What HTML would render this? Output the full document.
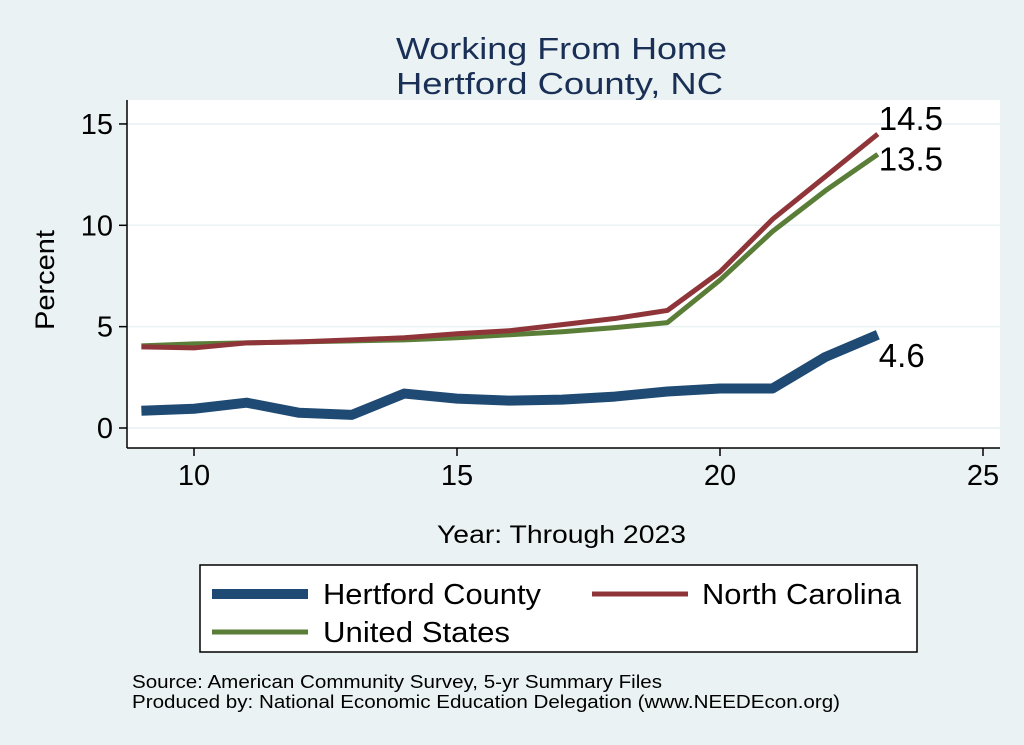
<!DOCTYPE html>
<html><head><meta charset="utf-8"><style>
body{margin:0;background:#eaf2f3;}
svg{display:block;font-family:"Liberation Sans",Arial,sans-serif;}
</style></head><body>
<svg id="chart" width="1024" height="745">
<rect x="0" y="0" width="1024" height="745" fill="#eaf2f3"/>
<text x="396" y="59" font-size="31" fill="#1a2f56" textLength="331" lengthAdjust="spacingAndGlyphs">Working From Home</text>
<text x="396" y="94" font-size="31" fill="#1a2f56" textLength="327" lengthAdjust="spacingAndGlyphs">Hertford County, NC</text>
<rect x="127" y="100" width="873" height="348" fill="#ffffff"/>
<g id="grid"></g>
<line x1="127" y1="100" x2="127" y2="448" stroke="#000" stroke-width="1.5"/>
<line x1="127" y1="448" x2="1000" y2="448" stroke="#000" stroke-width="1.5"/>
<g id="ticks"></g>
<g id="series"></g>
<text x="0" y="0" font-size="27" textLength="100" lengthAdjust="spacingAndGlyphs" transform="translate(54 330) rotate(-90)">Percent</text>
<text x="437" y="543" font-size="25" textLength="249" lengthAdjust="spacingAndGlyphs">Year: Through 2023</text>
<g>
<rect x="200" y="565" width="717" height="87" fill="#fff" stroke="#000" stroke-width="1.5"/>
<line x1="212" y1="594" x2="308" y2="594" stroke="#1f4a73" stroke-width="10"/>
<text x="323" y="604" font-size="29" textLength="218" lengthAdjust="spacingAndGlyphs">Hertford County</text>
<line x1="592" y1="594" x2="688" y2="594" stroke="#8f3539" stroke-width="5"/>
<text x="702" y="604" font-size="29" textLength="199" lengthAdjust="spacingAndGlyphs">North Carolina</text>
<line x1="212" y1="632" x2="308" y2="632" stroke="#5a7e37" stroke-width="5"/>
<text x="323" y="642" font-size="29" textLength="187" lengthAdjust="spacingAndGlyphs">United States</text>
</g>
<text x="132" y="688" font-size="18" textLength="530" lengthAdjust="spacingAndGlyphs">Source: American Community Survey, 5-yr Summary Files</text>
<text x="132" y="708" font-size="18" textLength="708" lengthAdjust="spacingAndGlyphs">Produced by: National Economic Education Delegation (www.NEEDEcon.org)</text>
</svg>
<script>
const years=[9,10,11,12,13,14,15,16,17,18,19,20,21,22,23];
const hertford=[0.85,0.95,1.25,0.75,0.65,1.7,1.45,1.35,1.4,1.55,1.8,1.95,1.95,3.5,4.6];
const northCarolina=[4.0,3.95,4.2,4.25,4.35,4.45,4.65,4.8,5.1,5.4,5.8,7.7,10.3,12.4,14.5];
const unitedStates=[4.05,4.15,4.2,4.25,4.3,4.35,4.45,4.6,4.75,4.95,5.2,7.3,9.7,11.7,13.5];
const xTicks=[10,15,20,25];
const yTicks=[0,5,10,15];
const NS="http://www.w3.org/2000/svg";
function xs(v){return 194+(v-10)*52.6;}
function ys(v){return 428-v*20.27;}
function mk(t,a,p){const e=document.createElementNS(NS,t);for(const k in a)e.setAttribute(k,a[k]);p.appendChild(e);return e;}
const grid=document.getElementById('grid'),ticks=document.getElementById('ticks'),ser=document.getElementById('series');
yTicks.forEach(v=>{
 const g=mk('line',{x1:127,x2:1000,y1:ys(v),y2:ys(v),stroke:'#eaf2f3','stroke-width':1.5},grid);
 
 
 const t=mk('line',{x1:119,x2:127,y1:ys(v),y2:ys(v),stroke:'#000','stroke-width':1.5},ticks);
 
 
 const l=mk('text',{x:113,y:ys(v)+10,'font-size':29,'text-anchor':'end'},ticks);l.textContent=v;
 
 
});
xTicks.forEach(v=>{
 const t=mk('line',{x1:xs(v),x2:xs(v),y1:448,y2:456,stroke:'#000','stroke-width':1.5},ticks);
 
 
 const l=mk('text',{x:xs(v),y:485,'font-size':29,'text-anchor':'middle'},ticks);l.textContent=v;
 
 
});
function line(vals,color,w,name){
 const p=mk('polyline',{points:vals.map((v,i)=>xs(years[i])+','+ys(v)).join(' '),fill:'none',stroke:color,'stroke-width':w,'stroke-linejoin':'round'},ser);
 
 
}
line(unitedStates,'#5a7e37',5,'line-united-states');
line(northCarolina,'#8f3539',5,'line-north-carolina');
line(hertford,'#1f4a73',10,'line-hertford-county');
function lab(vals,dy,name){
 const n=vals.length-1;
 const t=mk('text',{x:xs(years[n])+1,y:ys(vals[n])+dy,'font-size':33},ser);t.textContent=vals[n].toFixed(1);
 
 
}
lab(northCarolina,-4,'label-nc-last');
lab(unitedStates,16,'label-us-last');
lab(hertford,32,'label-hertford-last');
</script>
</body></html>
